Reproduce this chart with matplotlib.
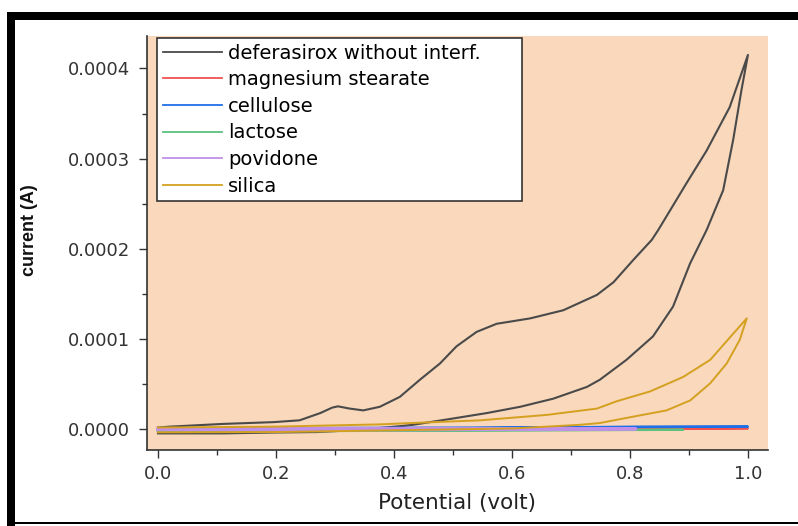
import numpy as np
import matplotlib.pyplot as plt
from matplotlib.patches import Rectangle
from matplotlib.ticker import MultipleLocator, FormatStrFormatter

# deferasirox without interferents - forward (anodic) then reverse scan
def_x = [0.0, 0.02, 0.11, 0.196, 0.24, 0.275, 0.295, 0.305, 0.325, 0.348, 0.376, 0.41, 0.444, 0.478,
         0.506, 0.54, 0.574, 0.631, 0.687, 0.744, 0.772, 0.806, 0.837, 0.848, 0.896, 0.93, 0.969, 1.0,
         0.989, 0.975, 0.958, 0.93, 0.902, 0.873, 0.839, 0.794, 0.749, 0.727, 0.67, 0.614, 0.557, 0.5,
         0.432, 0.41, 0.35, 0.3, 0.27, 0.2, 0.11, 0.0]
def_y = [0.2, 0.3, 0.6, 0.8, 1.0, 1.8, 2.4, 2.55, 2.3, 2.1, 2.5, 3.6, 5.5, 7.3,
         9.2, 10.8, 11.7, 12.3, 13.2, 14.9, 16.3, 18.8, 21.0, 22.1, 27.3, 30.9, 35.7, 41.5,
         37.6, 32.1, 26.5, 22.1, 18.4, 13.6, 10.3, 7.7, 5.5, 4.7, 3.4, 2.5, 1.8, 1.2,
         0.5, 0.35, 0.0, -0.2, -0.3, -0.35, -0.45, -0.45]

# silica
sil_x = [0.0, 0.2, 0.376, 0.43, 0.546, 0.659, 0.744, 0.777, 0.834, 0.89, 0.936, 0.975, 0.998,
         0.986, 0.964, 0.936, 0.902, 0.862, 0.805, 0.749, 0.715, 0.602, 0.4, 0.2, 0.0]
sil_y = [0.2, 0.3, 0.55, 0.7, 1.0, 1.6, 2.3, 3.1, 4.2, 5.8, 7.7, 10.6, 12.3,
         9.9, 7.3, 5.1, 3.2, 2.1, 1.4, 0.7, 0.5, 0.1, -0.1, -0.3, -0.33]

# magnesium stearate
mg_x = [0.0, 0.5, 1.0, 0.5, 0.0]
mg_y = [-0.1, 0.0, 0.1, -0.05, -0.1]

# cellulose
cel_x = [0.0, 0.2, 0.27, 0.81, 1.0, 0.81, 0.3, 0.0]
cel_y = [-0.15, -0.15, 0.15, 0.25, 0.3, 0.3, 0.0, -0.1]

# lactose
lac_x = [0.0, 0.45, 0.89, 0.45, 0.0]
lac_y = [-0.2, -0.1, -0.05, -0.15, -0.25]

# povidone
pov_x = [0.0, 0.4, 0.81, 0.4, 0.0]
pov_y = [0.1, 0.1, 0.05, -0.05, -0.05]

labels = ["deferasirox without interf.", "magnesium stearate", "cellulose",
          "lactose", "povidone", "silica"]
colors = ["#4A4A4A", "#F05252", "#1F6FE8", "#5CC080", "#C090E8", "#D4A020"]

fig = plt.figure(figsize=(7.98, 5.26), dpi=100)
ax = fig.add_axes([147/798, 1-450/526, (768-147)/798, (450-36)/526])
ax.set_facecolor("#F9D8BB")

series = [(def_x, def_y), (mg_x, mg_y), (cel_x, cel_y), (lac_x, lac_y), (pov_x, pov_y), (sil_x, sil_y)]
widths = [1.5, 1.4, 1.6, 1.6, 2.2, 1.4]
for (x, y), lab, c, w in zip(series, labels, colors, widths):
    ax.plot(x, np.array(y)*1e-5, color=c, lw=w, label=lab)

ax.set_xlim(-0.0186, 1.034)
ax.set_ylim(-2.29e-5, 4.36e-4)
ax.xaxis.set_major_locator(MultipleLocator(0.2))
ax.xaxis.set_minor_locator(MultipleLocator(0.1))
ax.yaxis.set_major_locator(MultipleLocator(0.0001))
ax.yaxis.set_minor_locator(MultipleLocator(0.00005))
ax.xaxis.set_major_formatter(FormatStrFormatter("%.1f"))
ax.yaxis.set_major_formatter(FormatStrFormatter("%.4f"))

for s in ["top", "right"]:
    ax.spines[s].set_visible(False)
for s in ["left", "bottom"]:
    ax.spines[s].set_color("#333333")
    ax.spines[s].set_linewidth(1.2)

ax.tick_params(which="major", direction="out", length=6, width=1, color="#333333",
               labelsize=13, labelcolor="#333333")
ax.tick_params(which="minor", direction="out", length=3.5, width=1, color="#333333")
ax.tick_params(axis="y", which="major", pad=6)
ax.tick_params(axis="x", which="major", pad=5)

ax.set_xlabel("Potential (volt)", fontsize=15.5, color="#222222")
ax.xaxis.set_label_coords(0.5, -0.105)
fig.text(29/798, 1-230/526, "current (A)", rotation=90, ha="center", va="center",
         fontsize=13, fontweight="bold", family="Liberation Sans", color="#111111")

leg = ax.legend(loc="upper left", bbox_to_anchor=(0.0161, 0.604, 0.5878, 0.3912),
                mode="expand", borderaxespad=0, fontsize=14, fancybox=False,
                framealpha=1, edgecolor="#333333", labelspacing=0.39, borderpad=0.29,
                handlelength=3.05, handletextpad=0.32)
leg.get_frame().set_linewidth(1.2)
for line in leg.get_lines():
    line.set_linewidth(1.3)

# black frame around the picture
fig.add_artist(Rectangle((7/798, 1-20/526), 1-7/798, 8/526, transform=fig.transFigure,
                         color="black", lw=0))
fig.add_artist(Rectangle((7/798, 0), 8/798, 1-12/526, transform=fig.transFigure,
                         color="black", lw=0))
fig.add_artist(Rectangle((7/798, 2/526), 1-7/798, 2/526, transform=fig.transFigure,
                         color="black", lw=0))

fig.savefig("out.png", dpi=100)
